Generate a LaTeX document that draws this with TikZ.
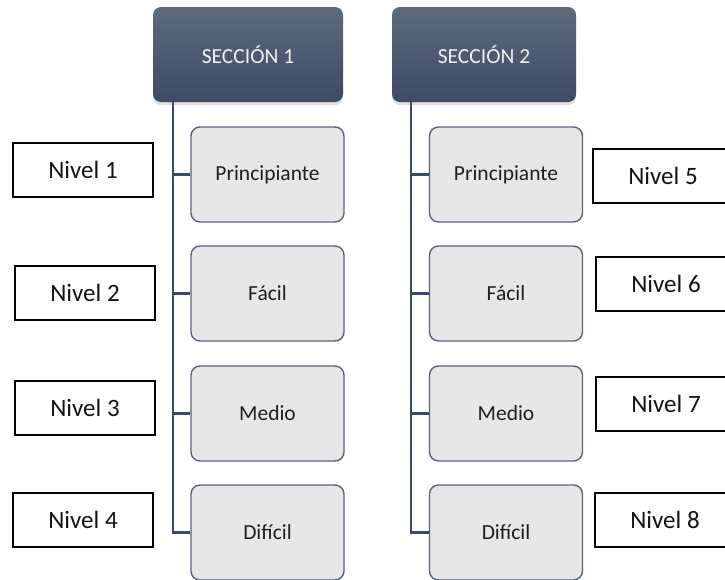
\documentclass[tikz,border=0pt]{standalone}
\usepackage{fontspec}
\setmainfont{Carlito}
\usetikzlibrary{shadows}
\definecolor{slatetop}{HTML}{5E6A7C}
\definecolor{slatebot}{HTML}{3C4A66}
\definecolor{linecol}{HTML}{3B4A66}
\definecolor{boxfill}{HTML}{E7E7E7}
\definecolor{boxline}{HTML}{56657C}
\tikzset{
  secbox/.style={rounded corners=8pt, minimum height=95pt, top color=slatetop, bottom color=slatebot,
     text=white!94!black, font=\fontsize{21.5}{26}\selectfont, inner sep=0pt,
     drop shadow={opacity=0.25, shadow xshift=0pt, shadow yshift=-3pt}},
  itembox/.style={draw=boxline, line width=1.4pt, fill=boxfill, rounded corners=9pt,
     minimum width=153pt, minimum height=95pt, inner sep=0pt, font=\fontsize{21.5}{26}\selectfont, text=black!88},
  nivbox/.style={draw=black, line width=2pt, fill=white, minimum width=140pt, minimum height=54pt,
     inner sep=0pt, font=\fontsize{25}{30}\selectfont, text=black!92},
  conn/.style={draw=linecol, line width=2.2pt}
}
\begin{document}
\begin{tikzpicture}[x=1pt,y=-1pt]
\useasboundingbox (0,0) rectangle (725,579);
% section headers
\node[secbox, minimum width=190pt] (s1) at (248,54.5) {SECCIÓN 1};
\node[secbox, minimum width=184pt] (s2) at (484,54.5) {SECCIÓN 2};
% items column 1
\node[itembox] (p1) at (267.5,174.5) {Principiante};
\node[itembox] (f1) at (267.5,293.5) {Fácil};
\node[itembox] (m1) at (267.5,413.5) {Medio};
\node[itembox] (d1) at (267.5,532.5) {Difícil};
% items column 2
\node[itembox] (p2) at (506,174.5) {Principiante};
\node[itembox] (f2) at (506,293.5) {Fácil};
\node[itembox] (m2) at (506,413.5) {Medio};
\node[itembox] (d2) at (506,532.5) {Difícil};
% trunk coordinates
\coordinate (t1) at (173,102);
\coordinate (t2) at (411,102);
% connectors
\draw[conn] (t1) |- (d1.west);
\draw[conn] (t1 |- p1.west) -- (p1.west);
\draw[conn] (t1 |- f1.west) -- (f1.west);
\draw[conn] (t1 |- m1.west) -- (m1.west);
\draw[conn] (t2) |- (d2.west);
\draw[conn] (t2 |- p2.west) -- (p2.west);
\draw[conn] (t2 |- f2.west) -- (f2.west);
\draw[conn] (t2 |- m2.west) -- (m2.west);
% level boxes
\node[nivbox] (n1) at (83,169.5) {Nivel 1};
\node[nivbox] (n2) at (85,292.5) {Nivel 2};
\node[nivbox] (n3) at (85,407.5) {Nivel 3};
\node[nivbox] (n4) at (83,520) {Nivel 4};
\node[nivbox] (n5) at (663,175.5) {Nivel 5};
\node[nivbox] (n6) at (666,283.5) {Nivel 6};
\node[nivbox] (n7) at (666,404) {Nivel 7};
\node[nivbox] (n8) at (665,520) {Nivel 8};
\end{tikzpicture}
\end{document}
